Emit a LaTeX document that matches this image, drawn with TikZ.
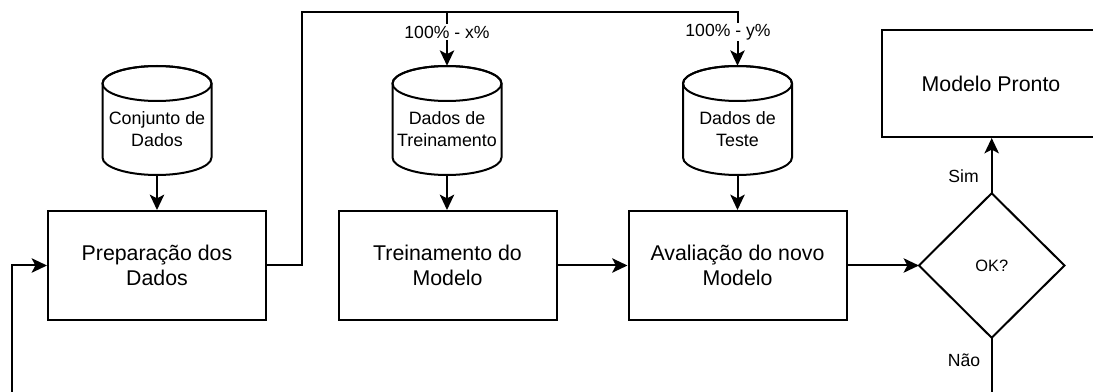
\documentclass[tikz,border=0pt]{standalone}
\usepackage{fontspec}
\setmainfont{Liberation Sans}
\usetikzlibrary{arrows.meta}

\tikzset{
  outline/.style={draw=black, line width=1.5pt},
  procbox/.style={outline, rectangle, minimum width=163.5pt, minimum height=81.75pt,
    inner sep=0pt, align=center, font=\fontsize{16}{19.3}\selectfont},
  drumframe/.style={rectangle, minimum width=81.75pt, minimum height=81.75pt, inner sep=0pt},
  drumtext/.style={align=center, inner sep=0pt, font=\fontsize{13.4}{16.3}\selectfont},
  decision/.style={rectangle, minimum width=108.75pt, minimum height=108pt, inner sep=0pt,
    font=\fontsize{12.3}{14}\selectfont},
  conn/.style={line width=1.5pt, -{Stealth[length=11.5pt,width=10.8pt,inset=2.8pt]}},
  plainconn/.style={line width=1.5pt},
  lbl/.style={inner sep=1pt, font=\fontsize{13.2}{15}\selectfont},
}

% database drum: name, centre x, top y, text
\newcommand{\dbdrum}[4]{%
  \node[drumframe] (#1) at (#2,#3+54.5) {};
  \draw[outline, fill=white] (#2-54.5,#3+17.5) -- (#2-54.5,#3+91.5)
    arc[start angle=180, end angle=360, x radius=40.875pt, y radius=13.125pt]
    -- (#2+54.5,#3+17.5)
    arc[start angle=0, end angle=180, x radius=40.875pt, y radius=13.125pt] -- cycle;
  \draw[outline] (#2,#3+17.5) ellipse[x radius=40.875pt, y radius=13.125pt];
  \node[drumtext] (#1-text) at (#2,#3+63) {#4};
}

\begin{document}
\begin{tikzpicture}[x=0.75pt,y=-0.75pt]
\useasboundingbox (0,0) rectangle (1093,392);
\clip (0,0) rectangle (1093,392);
\fill[white] (0,0) rectangle (1093,392);

% data stores
\dbdrum{dataDB}{157}{66}{Conjunto de\\Dados}
\dbdrum{trainDB}{447}{66}{Dados de\\Treinamento}
\dbdrum{testDB}{737.5}{66}{Dados de\\Teste}

% process steps
\node[procbox] (prep)  at (157,265.5)   {Preparação dos\\Dados};
\node[procbox] (train) at (447.5,265.5) {Treinamento do\\Modelo};
\node[procbox] (aval)  at (737.5,265.5) {Avaliação do novo\\Modelo};
\node[procbox, minimum height=80.25pt] (pronto) at (991,83.5) {Modelo Pronto};

% decision
\node[decision] (ok) at (991.7,265.5) {OK?};
\draw[outline] (ok.north) -- (ok.east) -- (ok.south) -- (ok.west) -- cycle;

% connectors
\draw[conn] (dataDB.south) -- (prep.north);
\draw[conn] (trainDB.south) -- (trainDB.south |- train.north);
\draw[conn] (testDB.south) -- (testDB.south |- aval.north);
\draw[conn] (train.east) -- (aval.west);
\draw[conn] (aval.east) -- (ok.west);
\draw[conn] (ok.north) -- (ok.north |- pronto.south);

\coordinate (splitTop) at (302,12);
\draw[conn] (prep.east) -| (splitTop) -| (testDB.north);
\draw[conn] (splitTop) -| (trainDB.north);

\coordinate (loopL) at (12.3,400);
\coordinate (loopR) at (991.7,400);
\draw[conn] (loopL) |- (prep.west);
\draw[plainconn] (ok.south) -- (loopR);

% edge labels
\node[lbl, fill=white] (splitX) at (447,32) {100\% - x\%};
\node[lbl, fill=white] (splitY) at (728,32) {100\% - y\%};
\node[lbl] (yes) at (963.5,176) {Sim};
\node[lbl] (no)  at (964,360) {Não};
\end{tikzpicture}
\end{document}
